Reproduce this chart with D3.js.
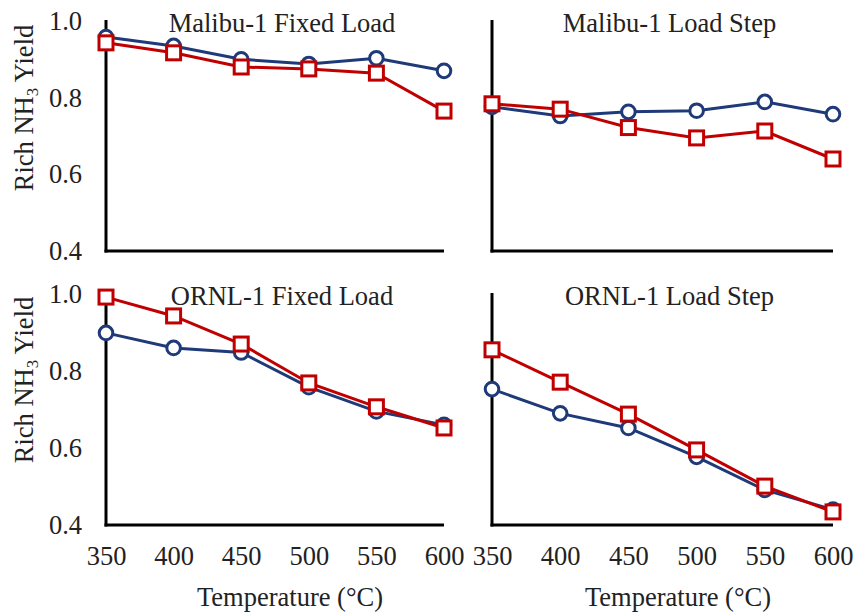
<!DOCTYPE html>
<html><head><meta charset="utf-8">
<script src="https://cdn.jsdelivr.net/npm/d3@7"></script>
<style>body{margin:0;background:#fff}svg{display:block}text{font-family:"Liberation Serif","Times New Roman",serif;fill:#222}</style>
</head><body>
<script>
const temps = [350, 400, 450, 500, 550, 600];
const yTicks = [0.4, 0.6, 0.8, 1.0];
const panelTitles = ["Malibu-1 Fixed Load", "Malibu-1 Load Step", "ORNL-1 Fixed Load", "ORNL-1 Load Step"];
const blueMalibuFixed = [0.958, 0.935, 0.900, 0.888, 0.903, 0.870];
const redMalibuFixed  = [0.943, 0.917, 0.880, 0.875, 0.864, 0.765];
const blueMalibuStep  = [0.776, 0.752, 0.763, 0.766, 0.789, 0.757];
const redMalibuStep   = [0.784, 0.770, 0.722, 0.695, 0.713, 0.640];
const blueOrnlFixed   = [0.899, 0.860, 0.848, 0.758, 0.695, 0.660];
const redOrnlFixed    = [0.992, 0.943, 0.870, 0.769, 0.707, 0.652];
const blueOrnlStep    = [0.753, 0.690, 0.652, 0.577, 0.491, 0.440];
const redOrnlStep     = [0.855, 0.771, 0.688, 0.595, 0.501, 0.434];

const blueSeries = [blueMalibuFixed, blueMalibuStep, blueOrnlFixed, blueOrnlStep];
const redSeries = [redMalibuFixed, redMalibuStep, redOrnlFixed, redOrnlStep];

const W = 855, H = 613, FS = 26.5;
const BLUE = "#1f3a78", RED = "#c00000";
const svg = d3.select("body").append("svg").attr("width", W).attr("height", H);

const panels = [
  {x0:106, x1:444, yT:21, yB:251, row:0, col:0},
  {x0:492, x1:833, yT:21, yB:251, row:0, col:1},
  {x0:106, x1:444, yT:294, yB:525, row:1, col:0},
  {x0:492, x1:833, yT:294, yB:525, row:1, col:1}
];

panels.forEach((p, i) => {
  const x = d3.scaleLinear().domain([350, 600]).range([p.x0, p.x1]);
  const y = d3.scaleLinear().domain([0.4, 1.0]).range([p.yB, p.yT]);
  const g = svg.append("g");

  g.append("line").attr("x1", p.x0).attr("x2", p.x0).attr("y1", p.yT - 1).attr("y2", p.yB + 1.5)
    .attr("stroke", "#000").attr("stroke-width", 3);
  g.append("line").attr("x1", p.x0 - 1.5).attr("x2", p.x1).attr("y1", p.yB).attr("y2", p.yB)
    .attr("stroke", "#000").attr("stroke-width", 3);

  if (p.col === 0) {
    const ya = d3.axisLeft(y).tickValues(yTicks).tickFormat(d3.format(".1f")).tickSize(0).tickPadding(24);
    const ag = g.append("g").attr("transform", `translate(${p.x0},0)`).call(ya);
    ag.select(".domain").remove();
    ag.selectAll("text").attr("font-size", FS).attr("fill", "#222").attr("font-family", "Liberation Serif");
  }
  if (p.row === 1) {
    const xa = d3.axisBottom(x).tickValues(temps).tickFormat(d3.format("d")).tickSize(0).tickPadding(21);
    const ag = g.append("g").attr("transform", `translate(0,${p.yB})`).call(xa);
    ag.select(".domain").remove();
    ag.selectAll("text").attr("font-size", FS).attr("fill", "#222").attr("font-family", "Liberation Serif");
  }

  g.append("text").attr("x", (p.x0 + p.x1) / 2 + 7).attr("y", p.yT + 11)
    .attr("text-anchor", "middle").attr("font-size", FS).text(panelTitles[i]);

  const line = d3.line().x((d, j) => x(temps[j])).y(d => y(d));
  g.append("path").datum(blueSeries[i]).attr("d", line).attr("fill", "none")
    .attr("stroke", BLUE).attr("stroke-width", 3);
  g.selectAll("circle.b").data(blueSeries[i]).enter().append("circle")
    .attr("cx", (d, j) => x(temps[j])).attr("cy", d => y(d)).attr("r", 6.8)
    .attr("fill", "#fff").attr("stroke", BLUE).attr("stroke-width", 3);
  g.append("path").datum(redSeries[i]).attr("d", line).attr("fill", "none")
    .attr("stroke", RED).attr("stroke-width", 3);
  g.selectAll("rect.r").data(redSeries[i]).enter().append("rect")
    .attr("x", (d, j) => x(temps[j]) - 7).attr("y", d => y(d) - 7).attr("width", 14).attr("height", 14)
    .attr("fill", "#fff").attr("stroke", RED).attr("stroke-width", 3);
});

[108, 380].forEach(cy => {
  const t = svg.append("text").attr("transform", `translate(33,${cy}) rotate(-90)`)
    .attr("text-anchor", "middle").attr("font-size", FS);
  t.append("tspan").text("Rich NH");
  t.append("tspan").attr("font-size", 17).attr("dy", 5).text("3");
  t.append("tspan").attr("dy", -5).text(" Yield");
});
[290, 678].forEach(cx => {
  svg.append("text").attr("x", cx).attr("y", 606).attr("text-anchor", "middle")
    .attr("font-size", FS).text("Temperature (°C)");
});
</script>
</body></html>
